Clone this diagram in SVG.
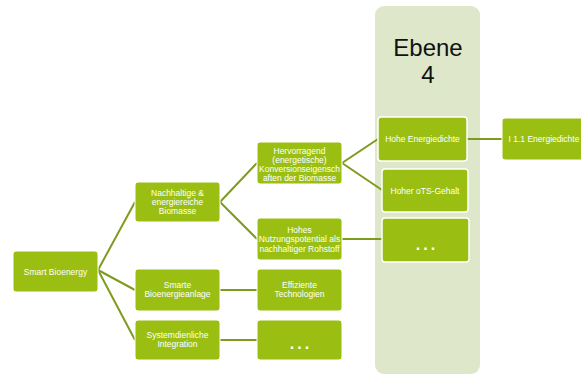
<svg xmlns="http://www.w3.org/2000/svg" width="581" height="375" viewBox="0 0 581 375">
  <style>
    .box { fill: #9abf12; stroke: #ffffff; stroke-width: 1; }
    .lbl { font-family: "Liberation Sans", Arial, sans-serif; font-size: 8.5px; fill: #ffffff; text-anchor: middle; }
    .dots { font-family: "Liberation Sans", Arial, sans-serif; font-size: 16px; font-weight: bold; fill: #ffffff; text-anchor: middle; letter-spacing: 3px; }
    .edge { fill: none; stroke: #7d9b1c; stroke-width: 2; }
    .lvl { font-family: "Liberation Sans", Arial, sans-serif; font-size: 24px; fill: #111111; text-anchor: middle; }
  </style>

  <!-- level 4 column -->
  <g id="ebene4">
    <rect x="375" y="6" width="105" height="368" rx="9" fill="#dee7ca"/>
    <text class="lvl" x="428" y="56">Ebene</text>
    <text class="lvl" x="428" y="83">4</text>
  </g>

  <!-- connectors -->
  <g id="connectors">
    <path class="edge" d="M98,270 L135,202"/>
    <path class="edge" d="M98,270 L135,290"/>
    <path class="edge" d="M98,270 L135,340"/>
    <path class="edge" d="M220,202 L257,163"/>
    <path class="edge" d="M220,202 L257,239"/>
    <path class="edge" d="M220,290 L257,290"/>
    <path class="edge" d="M220,340 L257,340"/>
    <path class="edge" d="M342,163 L378,139"/>
    <path class="edge" d="M342,163 L382,190"/>
    <path class="edge" d="M342,239 L382,239"/>
    <path class="edge" d="M467,139 L502,139"/>
  </g>

  <g id="smart-bioenergy">
    <rect class="box" x="13" y="251" width="85" height="41" rx="3"/>
    <text class="lbl" x="55.5" y="274.5">Smart Bioenergy</text>
  </g>

  <g id="nachhaltige-biomasse">
    <rect class="box" x="135" y="182" width="85" height="40" rx="3"/>
    <text class="lbl" x="177.5" y="195.5">Nachhaltige &amp;</text>
    <text class="lbl" x="177.5" y="205">energiereiche</text>
    <text class="lbl" x="177.5" y="214.3">Biomasse</text>
  </g>

  <g id="smarte-anlage">
    <rect class="box" x="135" y="269" width="85" height="42" rx="3"/>
    <text class="lbl" x="177.5" y="288">Smarte</text>
    <text class="lbl" x="177.5" y="297.3">Bioenergieanlage</text>
  </g>

  <g id="systemdienliche-integration">
    <rect class="box" x="135" y="320" width="85" height="40" rx="3"/>
    <text class="lbl" x="177.5" y="338">Systemdienliche</text>
    <text class="lbl" x="177.5" y="347.3">Integration</text>
  </g>

  <g id="konversionseigenschaften">
    <rect class="box" x="257" y="142" width="85" height="42" rx="3"/>
    <text class="lbl" x="299.5" y="153.7">Hervorragend</text>
    <text class="lbl" x="299.5" y="163">(energetische)</text>
    <text class="lbl" x="299.5" y="172.2">Konversionseigensch</text>
    <text class="lbl" x="299.5" y="181.4">aften der Biomasse</text>
  </g>

  <g id="nutzungspotential">
    <rect class="box" x="257" y="218" width="85" height="42" rx="3"/>
    <text class="lbl" x="299.5" y="233">Hohes</text>
    <text class="lbl" x="299.5" y="242.3">Nutzungspotential als</text>
    <text class="lbl" x="299.5" y="251.6">nachhaltiger Rohstoff</text>
  </g>

  <g id="effiziente-technologien">
    <rect class="box" x="257" y="269" width="85" height="42" rx="3"/>
    <text class="lbl" x="299.5" y="288">Effiziente</text>
    <text class="lbl" x="299.5" y="297.3">Technologien</text>
  </g>

  <g id="weitere-integration">
    <rect class="box" x="257" y="320" width="85" height="40" rx="3"/>
    <text class="dots" x="301" y="349">...</text>
  </g>

  <g id="hohe-energiedichte">
    <rect class="box" x="378" y="117" width="89" height="44" rx="3" style="stroke-width:1.5"/>
    <text class="lbl" x="422.5" y="142">Hohe Energiedichte</text>
  </g>

  <g id="hoher-ots-gehalt">
    <rect class="box" x="382" y="169" width="86" height="43" rx="3" style="stroke-width:1.5"/>
    <text class="lbl" x="425" y="193.5">Hoher oTS-Gehalt</text>
  </g>

  <g id="weitere-rohstoff">
    <rect class="box" x="382" y="218" width="87" height="44" rx="3" style="stroke-width:1.5"/>
    <text class="dots" x="427" y="249.5">...</text>
  </g>

  <g id="energiedichte-111">
    <rect class="box" x="502" y="118" width="86" height="42" rx="3"/>
    <text class="lbl" x="544" y="142">I 1.1 Energiedichte</text>
  </g>
</svg>
